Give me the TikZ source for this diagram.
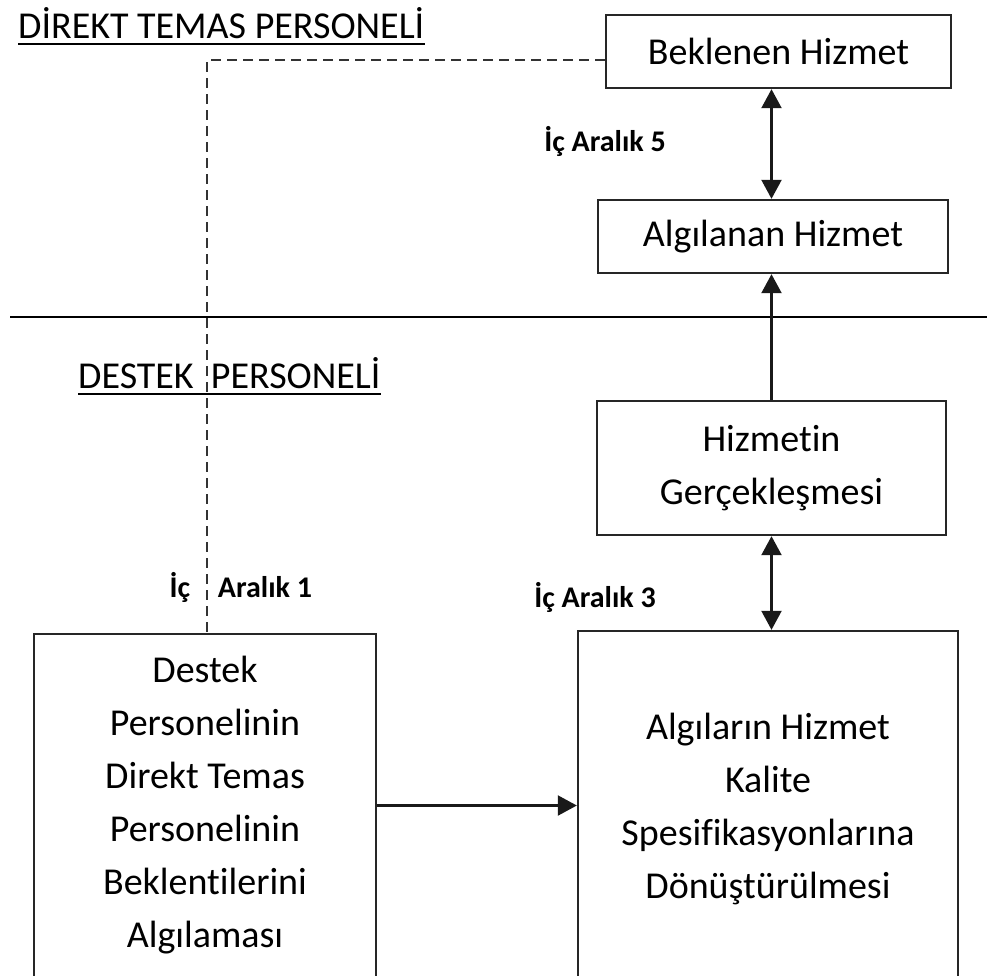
\documentclass[tikz,border=0pt]{standalone}
\usepackage{fontspec}
\setmainfont{Carlito}[Ligatures=NoCommon]
\usetikzlibrary{arrows.meta}
\begin{document}
\begin{tikzpicture}[x=1pt,y=-1pt,
  box/.style={draw=black!85,line width=2.4pt,rectangle,inner sep=0pt,align=center,
    font=\fontsize{38}{53}\selectfont},
  heading/.style={font=\fontsize{38}{44}\selectfont,inner sep=0pt,anchor=base west},
  gaplabel/.style={font=\fontsize{30}{34}\selectfont\bfseries,inner sep=0pt},
  link/.style={line width=2.2pt,black!90,-{Triangle[length=19pt,width=20pt]}},
  dlink/.style={line width=2.2pt,black!90,{Triangle[length=19pt,width=20pt]}-{Triangle[length=19pt,width=20pt]}},
  dashlink/.style={line width=2.6pt,black!80,dash pattern=on 10pt off 6pt}
]
\useasboundingbox (0,0) rectangle (987,975);
\clip (0,0) rectangle (987,975);
\fill[white] (0,0) rectangle (987,975);

% section headings
\node[heading] (h1) at (18,38) {DİREKT TEMAS PERSONELİ};
\draw[line width=2.6pt] ([yshift=-6pt]h1.base west) -- ([yshift=-6pt]h1.base east);
\node[heading] (h2) at (78,388) {DESTEK\ \ PERSONELİ};
\draw[line width=2.6pt] ([yshift=-6pt]h2.base west) -- ([yshift=-6pt]h2.base east);

% divider between the two levels
\coordinate (divL) at (10,317);
\coordinate (divR) at (987,317);
\draw[line width=2pt] (divL) -- (divR);

% boxes
\node[box,minimum width=345pt,minimum height=73pt] (bek) at (778.5,51.5) {Beklenen Hizmet};
\node[box,minimum width=350pt,minimum height=73pt] (alg) at (773,236.5) {Algılanan Hizmet};
\node[box,minimum width=349pt,minimum height=134pt] (hiz) at (771.5,468) {Hizmetin\\Gerçekleşmesi};
\node[box,minimum width=342pt,minimum height=343pt] (des) at (205,805.5)
  {Destek\\Personelinin\\Direkt Temas\\Personelinin\\Beklentilerini\\Algılaması};
\node[box,minimum width=380pt,minimum height=356pt] (spe) at (768,809)
  {Algıların Hizmet\\Kalite\\Spesifikasyonlarına\\Dönüştürülmesi};

% connectors
\draw[dlink] (bek.south -| hiz.center) -- (alg.north -| hiz.center);
\draw[link] (hiz.north -| hiz.center) -- (alg.south -| hiz.center);
\draw[dlink] (hiz.south) -- (spe.north -| hiz.center);
\draw[link] (des.east) -- (des.east -| spe.west);
\coordinate (corner) at (207,60);
\draw[dashlink] (bek.west |- corner) -- (corner) -- (des.north -| corner);

% gap labels
\node[gaplabel] (g5) at (605,141) {İç Aralık 5};
\node[gaplabel] (g3) at (595,597) {İç Aralık 3};
\node[gaplabel] (g1a) at (180,587) {İç};
\node[gaplabel] (g1b) at (265,587) {Aralık 1};
\end{tikzpicture}
\end{document}
